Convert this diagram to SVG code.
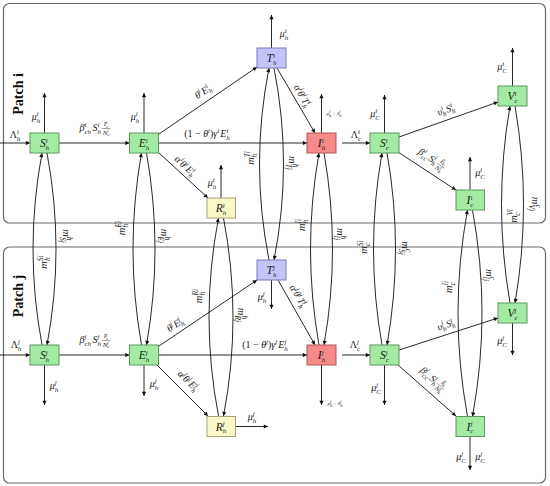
<svg xmlns="http://www.w3.org/2000/svg" width="550" height="486" viewBox="0 0 550 486">
<style>
.ml{font-family:"Liberation Serif","DejaVu Serif",serif;font-style:italic;fill:#1a1a1a}
.nl{font-size:11.5px}
.el{font-size:10px}
.mg{font-size:10.5px}
.sp{font-size:7px}
.ms{font-size:7.5px}
.ss{font-size:4.8px}
.fr{font-size:6.8px}
.tn{font-size:5px}
.up{font-style:normal}
.pt{font-family:"Liberation Serif","DejaVu Serif",serif;font-weight:bold;font-size:14px;fill:#111}
.frame{fill:none;stroke:#6a6a6a;stroke-width:1.2}
.g{fill:#a3eba3;stroke:#5f965f;stroke-width:1}
.r{fill:#f58a8a;stroke:#b35757;stroke-width:1}
.b{fill:#c4c4fa;stroke:#7a7ab8;stroke-width:1}
.y{fill:#fbf8c8;stroke:#a8a47a;stroke-width:1}
.ln{fill:none;stroke:#111;stroke-width:0.9;marker-end:url(#ah)}
.fl{stroke:#111;stroke-width:0.4}
</style>
<defs>
<marker id="ah" viewBox="0 0 10 10" refX="10" refY="5" markerWidth="5.5" markerHeight="4.2" orient="auto" markerUnits="userSpaceOnUse"><path d="M0,0 L10,5 L0,10 z" fill="#111"/></marker>
</defs>

<g id="frames">
<rect class="frame" x="3.5" y="3.5" width="542" height="219.5" rx="6"/>
<rect class="frame" x="3.5" y="247" width="542" height="236" rx="6"/>
<text class="pt" transform="translate(23,94) rotate(-90)" text-anchor="middle">Patch i</text>
<text class="pt" transform="translate(23,296) rotate(-90)" text-anchor="middle">Patch j</text>
</g>

<g id="connectors">
<path class="ln" d="M0,143 H30"/>
<path class="ln" d="M44.5,133 V93"/>
<path class="ln" d="M59,143 H129.5"/>
<path class="ln" d="M144,133 V93"/>
<path class="ln" d="M159,134 L257,67"/>
<path class="ln" d="M158.5,143 H307"/>
<path class="ln" d="M158,152 L208,198"/>
<path class="ln" d="M221,198 V165"/>
<path class="ln" d="M271.5,48 V15"/>
<path class="ln" d="M277,68 L315,133"/>
<path class="ln" d="M321.5,133 V94"/>
<path class="ln" d="M342,143 H370"/>
<path class="ln" d="M384.5,133 V95"/>
<path class="ln" d="M399,137 L498,102"/>
<path class="ln" d="M398,152 L456,190"/>
<path class="ln" d="M512.5,86 V48"/>
<path class="ln" d="M470,190 V157"/>
<path class="ln" d="M0,355 H30"/>
<path class="ln" d="M44.5,365 V405"/>
<path class="ln" d="M59,355 H129.5"/>
<path class="ln" d="M144,365 V396"/>
<path class="ln" d="M159,346 L257,280"/>
<path class="ln" d="M158.5,355 H307"/>
<path class="ln" d="M157,365 L208,416"/>
<path class="ln" d="M236,426.5 H268"/>
<path class="ln" d="M271.5,280 V309"/>
<path class="ln" d="M278,280 L315,345"/>
<path class="ln" d="M321.5,365 V405"/>
<path class="ln" d="M342,355 H370"/>
<path class="ln" d="M384.5,365 V405"/>
<path class="ln" d="M399,350 L498,318"/>
<path class="ln" d="M398,365 L456,416"/>
<path class="ln" d="M512.5,323 V355"/>
<path class="ln" d="M470,436.5 V470"/>
<path class="ln" d="M42,345 Q24,249 42,153"/>
<path class="ln" d="M47,153 Q65,249 47,345"/>
<path class="ln" d="M141.5,345 Q124.5,249 141.5,153"/>
<path class="ln" d="M146.5,153 Q163.5,249 146.5,345"/>
<path class="ln" d="M218.5,416 Q199.5,317 218.5,218"/>
<path class="ln" d="M223.5,218 Q242.5,317 223.5,416"/>
<path class="ln" d="M269,260 Q250,164 269,68"/>
<path class="ln" d="M274,68 Q293,164 274,260"/>
<path class="ln" d="M319,345 Q302,249 319,153"/>
<path class="ln" d="M324,153 Q341,249 324,345"/>
<path class="ln" d="M382,345 Q365,249 382,153"/>
<path class="ln" d="M387,153 Q404,249 387,345"/>
<path class="ln" d="M467.5,416.5 Q448.5,313 467.5,210"/>
<path class="ln" d="M472.5,210 Q491.5,313 472.5,416.5"/>
<path class="ln" d="M510,303 Q493,204.5 510,106"/>
<path class="ln" d="M515,106 Q532,204.5 515,303"/>
</g>

<g id="labels-i">
<text class="ml el" x="15" y="138" text-anchor="middle"><tspan class="up">Λ</tspan><tspan class="sp" dy="-4">i</tspan><tspan class="sp" dx="-2" dy="6.5">h</tspan></text>
<text class="ml el" x="36" y="120" text-anchor="middle">μ<tspan class="sp" dy="-4">i</tspan><tspan class="sp" dx="-2" dy="6.5">h</tspan></text>
<text class="ml el" x="135" y="120" text-anchor="middle">μ<tspan class="sp" dy="-4">i</tspan><tspan class="sp" dx="-2" dy="6.5">h</tspan></text>
<text class="ml el" x="101" y="131" text-anchor="end">β<tspan class="sp" dy="-4">i</tspan><tspan class="sp" dx="-2" dy="6.5">ch</tspan><tspan dx="1.5" dy="-2.5">S</tspan><tspan class="sp" dy="-4">i</tspan><tspan class="sp" dx="-2" dy="6.5">h</tspan></text>
<text class="ml fr" x="106" y="126" text-anchor="middle">I<tspan class="ss" dy="-2.5">i</tspan><tspan class="ss" dx="-1.3" dy="4">c</tspan></text>
<path class="fl" d="M102,128.5 H110.5"/>
<text class="ml fr" x="106" y="134.5" text-anchor="middle">N<tspan class="ss" dy="-2.5">i</tspan><tspan class="ss" dx="-1.3" dy="4">c</tspan></text>
<text class="ml el" transform="translate(203,92) rotate(-34)" x="0" y="3" text-anchor="middle">θ<tspan class="sp" dy="-4">i</tspan><tspan dx="1" dy="4">E</tspan><tspan class="sp" dy="-4">i</tspan><tspan class="sp" dx="-2" dy="6.5">h</tspan></text>
<text class="ml el" x="207" y="137" text-anchor="middle"><tspan class="up">(1 − </tspan>θ<tspan class="sp" dy="-4">i</tspan><tspan class="up" dy="4">)</tspan>γ<tspan class="sp" dy="-4">i</tspan><tspan dx="1" dy="4">E</tspan><tspan class="sp" dy="-4">i</tspan><tspan class="sp" dx="-2" dy="6.5">h</tspan></text>
<text class="ml el" transform="translate(185,166) rotate(42.6)" x="0" y="3" text-anchor="middle">α<tspan class="sp" dy="-4">i</tspan><tspan dy="4">θ</tspan><tspan class="sp" dy="-4">i</tspan><tspan dx="1" dy="4">E</tspan><tspan class="sp" dy="-4">i</tspan><tspan class="sp" dx="-2" dy="6.5">h</tspan></text>
<text class="ml el" x="212" y="186" text-anchor="middle">μ<tspan class="sp" dy="-4">i</tspan><tspan class="sp" dx="-2" dy="6.5">h</tspan></text>
<text class="ml el" x="284" y="37" text-anchor="middle">μ<tspan class="sp" dy="-4">i</tspan><tspan class="sp" dx="-2" dy="6.5">h</tspan></text>
<text class="ml el" transform="translate(302,96) rotate(60)" x="0" y="3" text-anchor="middle">α<tspan class="sp" dy="-4">i</tspan><tspan dy="4">θ</tspan><tspan class="sp" dy="-4">i</tspan><tspan dx="1" dy="4">T</tspan><tspan class="sp" dy="-4">i</tspan><tspan class="sp" dx="-2" dy="6.5">h</tspan></text>
<text class="ml tn" x="334" y="115" text-anchor="middle">μ<tspan class="ss" dy="-2">i</tspan><tspan class="ss" dx="-1.3" dy="3.5">h</tspan><tspan class="up" dy="-1.5"> + </tspan>δ<tspan class="ss" dy="-2">i</tspan><tspan class="ss" dx="-1.3" dy="3.5">h</tspan></text>
<text class="ml el" x="356" y="138" text-anchor="middle"><tspan class="up">Λ</tspan><tspan class="sp" dy="-4">i</tspan><tspan class="sp" dx="-2" dy="6.5">c</tspan></text>
<text class="ml el" x="375" y="117" text-anchor="middle">μ<tspan class="sp" dy="-4">i</tspan><tspan class="sp" dx="-2" dy="6.5">C</tspan></text>
<text class="ml el" transform="translate(446,110) rotate(-19.5)" x="0" y="3" text-anchor="middle">υ<tspan class="sp" dy="-4">i</tspan><tspan class="sp" dx="-2" dy="6.5">h</tspan><tspan dx="1" dy="-2.5">S</tspan><tspan class="sp" dy="-4">i</tspan><tspan class="sp" dx="-2" dy="6.5">h</tspan></text>
<g transform="translate(433,160) rotate(33.7)">
<text class="ml el" x="4" y="3" text-anchor="end">β<tspan class="sp" dy="-4">i</tspan><tspan class="sp" dx="-2" dy="6.5">cc</tspan><tspan dx="1" dy="-2.5">S</tspan><tspan class="sp" dy="-4">i</tspan><tspan class="sp" dx="-2" dy="6.5">h</tspan></text>
<text class="ml fr" x="9.5" y="-2" text-anchor="middle">I<tspan class="ss" dy="-2.5">i</tspan><tspan class="ss" dx="-1.3" dy="4">h</tspan></text>
<path class="fl" d="M5,0.5 H14"/>
<text class="ml fr" x="9.5" y="6.5" text-anchor="middle">N<tspan class="ss" dy="-2.5">i</tspan><tspan class="ss" dx="-1.3" dy="4">h</tspan></text>
</g>
<text class="ml el" x="502" y="70" text-anchor="middle">μ<tspan class="sp" dy="-4">i</tspan><tspan class="sp" dx="-2" dy="6.5">C</tspan></text>
<text class="ml el" x="480" y="176" text-anchor="middle">μ<tspan class="sp" dy="-4">i</tspan><tspan class="sp" dx="-2" dy="6.5">C</tspan></text>
</g>

<g id="labels-j">
<text class="ml el" x="16" y="348" text-anchor="middle"><tspan class="up">Λ</tspan><tspan class="sp" dy="-4">j</tspan><tspan class="sp" dx="-2" dy="6.5">h</tspan></text>
<text class="ml el" x="101" y="343" text-anchor="end">β<tspan class="sp" dy="-4">j</tspan><tspan class="sp" dx="-2" dy="6.5">ch</tspan><tspan dx="1.5" dy="-2.5">S</tspan><tspan class="sp" dy="-4">j</tspan><tspan class="sp" dx="-2" dy="6.5">h</tspan></text>
<text class="ml fr" x="106" y="338" text-anchor="middle">I<tspan class="ss" dy="-2.5">j</tspan><tspan class="ss" dx="-1.3" dy="4">c</tspan></text>
<path class="fl" d="M102,340.5 H110.5"/>
<text class="ml fr" x="106" y="346.5" text-anchor="middle">N<tspan class="ss" dy="-2.5">j</tspan><tspan class="ss" dx="-1.3" dy="4">c</tspan></text>
<text class="ml el" x="54" y="389" text-anchor="middle">μ<tspan class="sp" dy="-4">j</tspan><tspan class="sp" dx="-2" dy="6.5">h</tspan></text>
<text class="ml el" x="154" y="387" text-anchor="middle">μ<tspan class="sp" dy="-4">j</tspan><tspan class="sp" dx="-2" dy="6.5">h</tspan></text>
<text class="ml el" transform="translate(175,325) rotate(-33.6)" x="0" y="3" text-anchor="middle">θ<tspan class="sp" dy="-4">j</tspan><tspan dx="1" dy="4">E</tspan><tspan class="sp" dy="-4">j</tspan><tspan class="sp" dx="-2" dy="6.5">h</tspan></text>
<text class="ml el" x="265" y="348" text-anchor="middle"><tspan class="up">(1 − </tspan>θ<tspan class="sp" dy="-4">j</tspan><tspan class="up" dy="4">)</tspan>γ<tspan class="sp" dy="-4">j</tspan><tspan dx="1" dy="4">E</tspan><tspan class="sp" dy="-4">j</tspan><tspan class="sp" dx="-2" dy="6.5">h</tspan></text>
<text class="ml el" transform="translate(188,381) rotate(44)" x="0" y="3" text-anchor="middle">α<tspan class="sp" dy="-4">j</tspan><tspan dy="4">θ</tspan><tspan class="sp" dy="-4">j</tspan><tspan dx="1" dy="4">E</tspan><tspan class="sp" dy="-4">j</tspan><tspan class="sp" dx="-2" dy="6.5">h</tspan></text>
<text class="ml el" x="252" y="420" text-anchor="middle">μ<tspan class="sp" dy="-4">j</tspan><tspan class="sp" dx="-2" dy="6.5">h</tspan></text>
<text class="ml el" x="262" y="300" text-anchor="middle">μ<tspan class="sp" dy="-4">j</tspan><tspan class="sp" dx="-2" dy="6.5">h</tspan></text>
<text class="ml el" transform="translate(298,296) rotate(59)" x="0" y="3" text-anchor="middle">α<tspan class="sp" dy="-4">j</tspan><tspan dy="4">θ</tspan><tspan class="sp" dy="-4">j</tspan><tspan dx="1" dy="4">T</tspan><tspan class="sp" dy="-4">j</tspan><tspan class="sp" dx="-2" dy="6.5">h</tspan></text>
<text class="ml tn" x="335" y="405" text-anchor="middle">μ<tspan class="ss" dy="-2">j</tspan><tspan class="ss" dx="-1.3" dy="3.5">h</tspan><tspan class="up" dy="-1.5"> + </tspan>δ<tspan class="ss" dy="-2">j</tspan><tspan class="ss" dx="-1.3" dy="3.5">h</tspan></text>
<text class="ml el" x="355" y="348" text-anchor="middle"><tspan class="up">Λ</tspan><tspan class="sp" dy="-4">j</tspan><tspan class="sp" dx="-2" dy="6.5">c</tspan></text>
<text class="ml el" x="376" y="391" text-anchor="middle">μ<tspan class="sp" dy="-4">j</tspan><tspan class="sp" dx="-2" dy="6.5">C</tspan></text>
<text class="ml el" transform="translate(446,325) rotate(-18)" x="0" y="3" text-anchor="middle">υ<tspan class="sp" dy="-4">j</tspan><tspan class="sp" dx="-2" dy="6.5">h</tspan><tspan dx="1" dy="-2.5">S</tspan><tspan class="sp" dy="-4">j</tspan><tspan class="sp" dx="-2" dy="6.5">h</tspan></text>
<g transform="translate(434,380) rotate(41)">
<text class="ml el" x="4" y="3" text-anchor="end">β<tspan class="sp" dy="-4">j</tspan><tspan class="sp" dx="-2" dy="6.5">cc</tspan><tspan dx="1" dy="-2.5">S</tspan><tspan class="sp" dy="-4">j</tspan><tspan class="sp" dx="-2" dy="6.5">h</tspan></text>
<text class="ml fr" x="9.5" y="-2" text-anchor="middle">I<tspan class="ss" dy="-2.5">j</tspan><tspan class="ss" dx="-1.3" dy="4">h</tspan></text>
<path class="fl" d="M5,0.5 H14"/>
<text class="ml fr" x="9.5" y="6.5" text-anchor="middle">N<tspan class="ss" dy="-2.5">j</tspan><tspan class="ss" dx="-1.3" dy="4">h</tspan></text>
</g>
<text class="ml el" x="502" y="344" text-anchor="middle">μ<tspan class="sp" dy="-4">j</tspan><tspan class="sp" dx="-2" dy="6.5">C</tspan></text>
<text class="ml el" x="461" y="460" text-anchor="middle">μ<tspan class="sp" dy="-4">j</tspan><tspan class="sp" dx="-2" dy="6.5">C</tspan></text>
<text class="ml el" x="480" y="460" text-anchor="middle">μ<tspan class="sp" dy="-4">j</tspan><tspan class="sp" dx="-2" dy="6.5">C</tspan></text>
</g>

<g id="labels-migration">
<text class="ml mg" transform="translate(44,262) rotate(-90)" x="0" y="3" text-anchor="middle">m<tspan class="ms" dy="-4">Si</tspan><tspan class="ms" dx="-5.8" dy="7">h</tspan></text>
<text class="ml mg" transform="translate(66,236) rotate(90)" x="0" y="3" text-anchor="middle">m<tspan class="ms" dy="-4">h</tspan><tspan class="ms" dx="-3.7" dy="7">Sj</tspan></text>
<text class="ml mg" transform="translate(122,228) rotate(-90)" x="0" y="3" text-anchor="middle">m<tspan class="ms" dy="-4">Ei</tspan><tspan class="ms" dx="-6.7" dy="7">h</tspan></text>
<text class="ml mg" transform="translate(164,236) rotate(90)" x="0" y="3" text-anchor="middle">m<tspan class="ms" dy="-4">h</tspan><tspan class="ms" dx="-3.7" dy="7">Ej</tspan></text>
<text class="ml mg" transform="translate(199,296) rotate(-90)" x="0" y="3" text-anchor="middle">m<tspan class="ms" dy="-4">Ri</tspan><tspan class="ms" dx="-6.7" dy="7">h</tspan></text>
<text class="ml mg" transform="translate(241,315) rotate(90)" x="0" y="3" text-anchor="middle">m<tspan class="ms" dy="-4">h</tspan><tspan class="ms" dx="-3.7" dy="7">Rj</tspan></text>
<text class="ml mg" transform="translate(251,158) rotate(-90)" x="0" y="3" text-anchor="middle">m<tspan class="ms" dy="-4">Ti</tspan><tspan class="ms" dx="-6.3" dy="7">h</tspan></text>
<text class="ml mg" transform="translate(292,163) rotate(90)" x="0" y="3" text-anchor="middle">m<tspan class="ms" dy="-4">h</tspan><tspan class="ms" dx="-3.7" dy="7">Tj</tspan></text>
<text class="ml mg" transform="translate(302,225) rotate(-90)" x="0" y="3" text-anchor="middle">m<tspan class="ms" dy="-4">Ii</tspan><tspan class="ms" dx="-4.6" dy="7">h</tspan></text>
<text class="ml mg" transform="translate(340,234) rotate(90)" x="0" y="3" text-anchor="middle">m<tspan class="ms" dy="-4">h</tspan><tspan class="ms" dx="-3.7" dy="7">Ij</tspan></text>
<text class="ml mg" transform="translate(364,247) rotate(-90)" x="0" y="3" text-anchor="middle">m<tspan class="ms" dy="-4">Si</tspan><tspan class="ms" dx="-5.8" dy="7">c</tspan></text>
<text class="ml mg" transform="translate(405,248) rotate(90)" x="0" y="3" text-anchor="middle">m<tspan class="ms" dy="-4">c</tspan><tspan class="ms" dx="-3.3" dy="7">Sj</tspan></text>
<text class="ml mg" transform="translate(449,287) rotate(-90)" x="0" y="3" text-anchor="middle">m<tspan class="ms" dy="-4">Ii</tspan><tspan class="ms" dx="-4.6" dy="7">c</tspan></text>
<text class="ml mg" transform="translate(489,275) rotate(90)" x="0" y="3" text-anchor="middle">m<tspan class="ms" dy="-4">c</tspan><tspan class="ms" dx="-3.3" dy="7">Ij</tspan></text>
<text class="ml mg" transform="translate(514,216) rotate(-90)" x="0" y="3" text-anchor="middle">m<tspan class="ms" dy="-4">Vi</tspan><tspan class="ms" dx="-6.7" dy="7">c</tspan></text>
<text class="ml mg" transform="translate(535,204) rotate(90)" x="0" y="3" text-anchor="middle">m<tspan class="ms" dy="-4">c</tspan><tspan class="ms" dx="-3.3" dy="7">Vj</tspan></text>
</g>

<g id="Shi"><rect class="g" x="30" y="133" width="29" height="20"/><text class="ml nl" x="44.5" y="147" text-anchor="middle">S<tspan class="sp" dy="-4.5">i</tspan><tspan class="sp" dx="-2" dy="7">h</tspan></text></g>
<g id="Ehi"><rect class="g" x="129.5" y="133" width="29" height="20"/><text class="ml nl" x="144" y="147" text-anchor="middle">E<tspan class="sp" dy="-4.5">i</tspan><tspan class="sp" dx="-2" dy="7">h</tspan></text></g>
<g id="Thi"><rect class="b" x="257" y="48" width="29" height="20"/><text class="ml nl" x="271.5" y="62" text-anchor="middle">T<tspan class="sp" dy="-4.5">i</tspan><tspan class="sp" dx="-2" dy="7">h</tspan></text></g>
<g id="Ihi"><rect class="r" x="307" y="133" width="29" height="20"/><text class="ml nl" x="321.5" y="147" text-anchor="middle">I<tspan class="sp" dy="-4.5">i</tspan><tspan class="sp" dx="-2" dy="7">h</tspan></text></g>
<g id="Rhi"><rect class="y" x="207" y="198" width="28.5" height="20"/><text class="ml nl" x="221" y="212" text-anchor="middle">R<tspan class="sp" dy="-4.5">i</tspan><tspan class="sp" dx="-2" dy="7">h</tspan></text></g>
<g id="Sci"><rect class="g" x="370" y="133" width="29" height="20"/><text class="ml nl" x="384.5" y="147" text-anchor="middle">S<tspan class="sp" dy="-4.5">i</tspan><tspan class="sp" dx="-2" dy="7">c</tspan></text></g>
<g id="Vci"><rect class="g" x="498" y="86" width="29" height="20"/><text class="ml nl" x="512.5" y="100" text-anchor="middle">V<tspan class="sp" dy="-4.5">i</tspan><tspan class="sp" dx="-2" dy="7">c</tspan></text></g>
<g id="Ici"><rect class="g" x="456" y="190" width="28.5" height="20"/><text class="ml nl" x="470" y="204" text-anchor="middle">I<tspan class="sp" dy="-4.5">i</tspan><tspan class="sp" dx="-2" dy="7">c</tspan></text></g>

<g id="Shj"><rect class="g" x="30" y="345" width="29" height="20"/><text class="ml nl" x="44.5" y="359" text-anchor="middle">S<tspan class="sp" dy="-4.5">j</tspan><tspan class="sp" dx="-2" dy="7">h</tspan></text></g>
<g id="Ehj"><rect class="g" x="129.5" y="345" width="29" height="20"/><text class="ml nl" x="144" y="359" text-anchor="middle">E<tspan class="sp" dy="-4.5">j</tspan><tspan class="sp" dx="-2" dy="7">h</tspan></text></g>
<g id="Thj"><rect class="b" x="257" y="260" width="29" height="20"/><text class="ml nl" x="271.5" y="274" text-anchor="middle">T<tspan class="sp" dy="-4.5">j</tspan><tspan class="sp" dx="-2" dy="7">h</tspan></text></g>
<g id="Ihj"><rect class="r" x="307" y="345" width="29" height="20"/><text class="ml nl" x="321.5" y="359" text-anchor="middle">I<tspan class="sp" dy="-4.5">j</tspan><tspan class="sp" dx="-2" dy="7">h</tspan></text></g>
<g id="Rhj"><rect class="y" x="207" y="416.5" width="28.5" height="20"/><text class="ml nl" x="221" y="430.5" text-anchor="middle">R<tspan class="sp" dy="-4.5">j</tspan><tspan class="sp" dx="-2" dy="7">h</tspan></text></g>
<g id="Scj"><rect class="g" x="370" y="345" width="29" height="20"/><text class="ml nl" x="384.5" y="359" text-anchor="middle">S<tspan class="sp" dy="-4.5">j</tspan><tspan class="sp" dx="-2" dy="7">c</tspan></text></g>
<g id="Vcj"><rect class="g" x="498" y="303" width="29" height="20"/><text class="ml nl" x="512.5" y="317" text-anchor="middle">V<tspan class="sp" dy="-4.5">j</tspan><tspan class="sp" dx="-2" dy="7">c</tspan></text></g>
<g id="Icj"><rect class="g" x="456" y="416.5" width="28.5" height="20"/><text class="ml nl" x="470" y="430.5" text-anchor="middle">I<tspan class="sp" dy="-4.5">j</tspan><tspan class="sp" dx="-2" dy="7">c</tspan></text></g>
</svg>
